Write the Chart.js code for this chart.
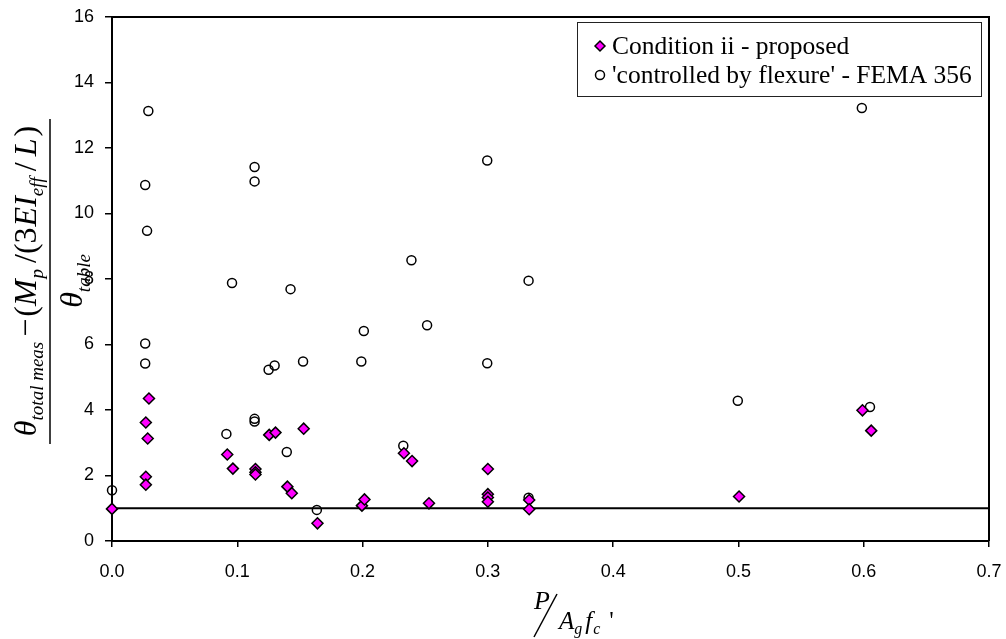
<!DOCTYPE html>
<html>
<head>
<meta charset="utf-8">
<script src="https://cdn.jsdelivr.net/npm/chart.js@4.4.1/dist/chart.umd.min.js"></script>
<style>
  html, body { margin: 0; padding: 0; background: #fff; }
  #wrap { width: 1006px; height: 639px; }
</style>
</head>
<body>
<div id="wrap"><canvas id="driftChart" width="1006" height="639"></canvas></div>
<script>
// Condition ii - proposed
const proposedX = [0.000, 0.0295, 0.027, 0.0285, 0.027, 0.027, 0.092, 0.0965, 0.1145, 0.1145, 0.1145,
                   0.1255, 0.1305, 0.140, 0.1435, 0.153, 0.164, 0.1995, 0.2015, 0.233, 0.2395, 0.253,
                   0.300, 0.300, 0.300, 0.300, 0.333, 0.333, 0.5005, 0.599, 0.606];
const proposedY = [0.98, 4.35, 3.62, 3.13, 1.96, 1.72, 2.64, 2.21, 2.20, 2.10, 2.03,
                   3.24, 3.31, 1.66, 1.46, 3.43, 0.54, 1.08, 1.27, 2.68, 2.44, 1.15,
                   2.20, 1.43, 1.33, 1.20, 1.25, 0.97, 1.36, 3.99, 3.37];

// 'controlled by flexure' - FEMA 356
const femaX = [0.000, 0.029, 0.0265, 0.028, 0.0265, 0.0265, 0.0913, 0.0958, 0.1138, 0.1138, 0.1138, 0.1138,
               0.125, 0.1298, 0.1395, 0.1425, 0.1525, 0.1635, 0.199, 0.201, 0.2325, 0.239, 0.2515,
               0.2995, 0.2995, 0.3325, 0.3325, 0.4995, 0.5985, 0.605];
const femaY = [1.55, 13.13, 10.87, 9.47, 6.03, 5.42, 3.27, 7.88, 11.42, 10.98, 3.73, 3.65,
               5.23, 5.36, 2.72, 7.69, 5.48, 0.95, 5.48, 6.41, 2.91, 8.57, 6.59,
               11.62, 5.43, 7.95, 1.32, 4.28, 13.22, 4.09];

// ratio = 1 reference line
const limitX = [0, 0.7];
const limitY = [1, 1];

const legendLabels = ['Condition ii - proposed', "'controlled by flexure' - FEMA 356"];

const serif = '"Liberation Serif", "Times New Roman", serif';
const sans = '"Liberation Sans", Arial, sans-serif';
const magenta = '#ff00ff';

const toPoints = (xs, ys) => xs.map((x, i) => ({ x: x, y: ys[i] }));

// helpers for mixed italic / subscript runs
function drawRuns(ctx, runs, x, y) {
    runs.forEach(r => {
        ctx.font = r.font;
        ctx.fillText(r.text, x, y + (r.dy || 0));
        x += ctx.measureText(r.text).width + (r.gap || 0);
    });
    return x;
}
function runsWidth(ctx, runs) {
    let w = 0;
    runs.forEach(r => {
        ctx.font = r.font;
        w += ctx.measureText(r.text).width + (r.gap || 0);
    });
    return w;
}

function diamond(ctx, x, y, r) {
    ctx.beginPath();
    ctx.moveTo(x - r, y);
    ctx.lineTo(x, y - r);
    ctx.lineTo(x + r, y);
    ctx.lineTo(x, y + r);
    ctx.closePath();
    ctx.fillStyle = magenta;
    ctx.fill();
    ctx.lineWidth = 1.5;
    ctx.strokeStyle = '#000';
    ctx.stroke();
}
function ring(ctx, x, y, r) {
    ctx.beginPath();
    ctx.arc(x, y, r, 0, Math.PI * 2);
    ctx.lineWidth = 1.5;
    ctx.strokeStyle = '#000';
    ctx.stroke();
}

const framePlugin = {
    id: 'frame',
    beforeDatasetsDraw(chart) {
        const { ctx, chartArea: a } = chart;
        ctx.save();
        ctx.strokeStyle = '#000';
        ctx.lineWidth = 2;
        ctx.beginPath();
        ctx.moveTo(a.left, a.top);
        ctx.lineTo(a.right, a.top);
        ctx.lineTo(a.right, a.bottom);
        ctx.stroke();
        ctx.restore();
    }
};

const titlesPlugin = {
    id: 'titles',
    afterDraw(chart) {
        const ctx = chart.ctx;
        const it32 = 'italic 32px ' + serif;
        const up32 = '32px ' + serif;
        const it19 = 'italic 19px ' + serif;
        ctx.save();
        ctx.fillStyle = '#000';
        ctx.textBaseline = 'alphabetic';
        ctx.textAlign = 'left';

        // y-axis title: fraction drawn sideways
        const midY = 281;
        const numer = [
            { text: 'θ', font: it32 },
            { text: 'total meas', font: it19, dy: 7, gap: 5 },
            { text: '−', font: up32, gap: 2 },
            { text: '(', font: up32 },
            { text: 'M', font: it32, gap: 1 },
            { text: 'p', font: it19, dy: 7, gap: 6 },
            { text: '/', font: up32 },
            { text: '(', font: up32 },
            { text: '3', font: up32, gap: 1 },
            { text: 'EI', font: it32 },
            { text: 'eff', font: it19, dy: 7, gap: 6 },
            { text: '/', font: up32, gap: 6 },
            { text: 'L', font: it32, gap: 2 },
            { text: ')', font: up32 }
        ];
        const denom = [
            { text: 'θ', font: it32 },
            { text: 'table', font: it19, dy: 8 }
        ];
        ctx.save();
        ctx.translate(0, midY);
        ctx.rotate(-Math.PI / 2);
        drawRuns(ctx, numer, -runsWidth(ctx, numer) / 2, 36);
        drawRuns(ctx, denom, -runsWidth(ctx, denom) / 2, 82);
        ctx.restore();
        ctx.lineWidth = 1.5;
        ctx.strokeStyle = '#000';
        ctx.beginPath();
        ctx.moveTo(50, 119);
        ctx.lineTo(50, 444);
        ctx.stroke();

        // x-axis title: P / (Ag fc')
        ctx.font = 'italic 26px ' + serif;
        ctx.fillText('P', 534, 609);
        ctx.beginPath();
        ctx.moveTo(534, 637);
        ctx.lineTo(557, 594);
        ctx.stroke();
        drawRuns(ctx, [
            { text: 'A', font: 'italic 25px ' + serif },
            { text: 'g', font: 'italic 16px ' + serif, dy: 5, gap: 3 },
            { text: 'f', font: 'italic 25px ' + serif, gap: 1 },
            { text: 'c', font: 'italic 16px ' + serif, dy: 5, gap: 9 },
            { text: "'", font: '25px ' + serif }
        ], 559, 629);
        ctx.restore();
    }
};

const legendPlugin = {
    id: 'boxLegend',
    afterDraw(chart) {
        const ctx = chart.ctx;
        ctx.save();
        ctx.fillStyle = '#fff';
        ctx.fillRect(577, 22, 405, 75);
        ctx.strokeStyle = '#222';
        ctx.lineWidth = 1;
        ctx.strokeRect(577.5, 22.5, 404, 74);
        diamond(ctx, 600, 46, 5);
        ring(ctx, 600, 75, 4.5);
        ctx.fillStyle = '#000';
        ctx.font = '25.5px ' + serif;
        ctx.textBaseline = 'alphabetic';
        ctx.fillText(legendLabels[0], 612, 54);
        ctx.fillText(legendLabels[1], 612, 83);
        ctx.restore();
    }
};

new Chart(document.getElementById('driftChart'), {
    type: 'scatter',
    data: {
        datasets: [
            {
                label: legendLabels[0],
                data: toPoints(proposedX, proposedY),
                pointStyle: 'rectRot',
                pointRadius: 5.5,
                backgroundColor: magenta,
                borderColor: '#000',
                borderWidth: 1.5,
                clip: false
            },
            {
                label: legendLabels[1],
                data: toPoints(femaX, femaY),
                pointStyle: 'circle',
                pointRadius: 4.5,
                backgroundColor: 'rgba(0,0,0,0)',
                borderColor: '#000',
                borderWidth: 1.5,
                clip: false
            },
            {
                label: 'limit',
                data: toPoints(limitX, limitY),
                showLine: true,
                pointRadius: 0,
                borderColor: '#000',
                borderWidth: 2,
                clip: false
            }
        ]
    },
    options: {
        responsive: false,
        animation: false,
        events: [],
        layout: { padding: { left: 0, top: 17, right: 17, bottom: 0 } },
        plugins: {
            legend: { display: false },
            tooltip: { enabled: false }
        },
        scales: {
            x: {
                type: 'linear',
                min: 0,
                max: 0.7,
                afterFit: s => { s.height = 98; s.paddingLeft = 0; s.paddingRight = 0; },
                border: { display: true, color: '#000', width: 2 },
                grid: { display: true, drawOnChartArea: false, drawTicks: true, tickLength: 6, color: '#000', lineWidth: 1.5 },
                ticks: {
                    stepSize: 0.1,
                    padding: 14,
                    color: '#000',
                    font: { family: sans, size: 18 },
                    maxRotation: 0,
                    callback: v => v.toFixed(1)
                }
            },
            y: {
                type: 'linear',
                min: 0,
                max: 16,
                afterFit: s => { s.width = 112; s.paddingTop = 0; s.paddingBottom = 0; },
                border: { display: true, color: '#000', width: 2 },
                grid: { display: true, drawOnChartArea: false, drawTicks: true, tickLength: 7, color: '#000', lineWidth: 1.5 },
                ticks: {
                    stepSize: 2,
                    padding: 11,
                    color: '#000',
                    font: { family: sans, size: 18 }
                }
            }
        }
    },
    plugins: [framePlugin, titlesPlugin, legendPlugin]
});
</script>
</body>
</html>
